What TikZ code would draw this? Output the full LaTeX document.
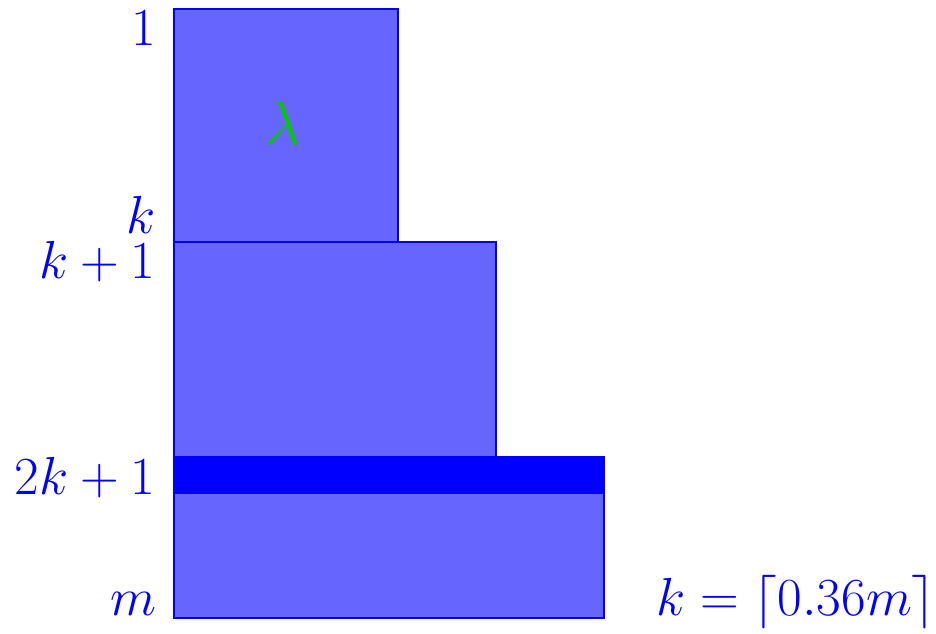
\RequirePackage{fix-cm}
\documentclass[tikz,border=0pt]{standalone}
\usepackage{amsmath}
\begin{document}
\begin{tikzpicture}[x=0.5pt,y=-0.5pt,
  blk/.style={draw=blue,fill=blue!60,line width=1pt},
  band/.style={draw=blue,fill=blue,line width=1pt},
  lab/.style={text=blue,inner sep=0pt,font=\fontsize{26.8}{32}\selectfont},
  lamb/.style={text=green!80!black,inner sep=0pt,font=\fontsize{31}{37}\selectfont}]
\useasboundingbox (0,0) rectangle (936,633);
\path[blk] (174,9) rectangle (398,242);
\path[blk] (174,242) rectangle (496,457);
\path[blk] (174,493) rectangle (604,618);
\path[band] (174,457) rectangle (604,493);
\node[lamb,anchor=base] (lam) at (283,144) {$\lambda$};
\node[lab,anchor=base east] (l1) at (156,45) {$1$};
\node[lab,anchor=base east] (lk) at (156,233) {$k$};
\node[lab,anchor=base east] (lk1) at (156,278) {$k+1$};
\node[lab,anchor=base east] (l2k) at (156,494) {$2k+1$};
\node[lab,anchor=base east] (lm) at (157,615) {$m$};
\node[lab,anchor=base west] (lkdef) at (656,615) {$k=\lceil 0.36m\rceil$};
\end{tikzpicture}
\end{document}
